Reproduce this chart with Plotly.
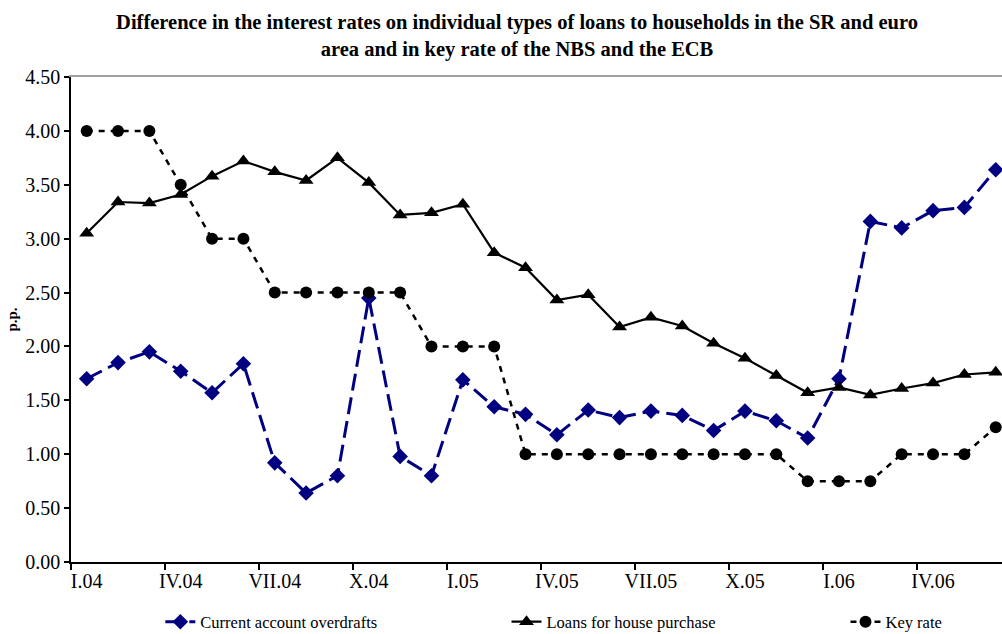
import plotly.graph_objects as go

months = list(range(30))  # Jan 2004 .. Jun 2006
tick_pos = [0, 3, 6, 9, 12, 15, 18, 21, 24, 27]
tick_text = ["I.04", "IV.04", "VII.04", "X.04", "I.05", "IV.05", "VII.05", "X.05", "I.06", "IV.06"]

overdrafts = [1.70, 1.85, 1.95, 1.77, 1.57, 1.84, 0.92, 0.64, 0.80, 2.45,
              0.98, 0.80, 1.69, 1.44, 1.37, 1.18, 1.41, 1.34, 1.40, 1.36,
              1.22, 1.40, 1.31, 1.15, 1.70, 3.16, 3.10, 3.26, 3.29, 3.64]
house_loans = [3.05, 3.34, 3.33, 3.41, 3.58, 3.72, 3.62, 3.54, 3.75, 3.52,
               3.22, 3.24, 3.32, 2.87, 2.73, 2.43, 2.48, 2.18, 2.27, 2.19,
               2.03, 1.89, 1.73, 1.57, 1.62, 1.55, 1.61, 1.66, 1.74, 1.76]
key_rate = [4.00, 4.00, 4.00, 3.50, 3.00, 3.00, 2.50, 2.50, 2.50, 2.50,
            2.50, 2.00, 2.00, 2.00, 1.00, 1.00, 1.00, 1.00, 1.00, 1.00,
            1.00, 1.00, 1.00, 0.75, 0.75, 0.75, 1.00, 1.00, 1.00, 1.25]

FONT = "Liberation Serif"
NAVY = "#000080"

fig = go.Figure()
fig.add_trace(go.Scatter(
    x=months, y=overdrafts, name="Current account overdrafts", mode="lines+markers",
    line=dict(color=NAVY, width=3, dash="17px,7px"),
    marker=dict(symbol="diamond", size=12, color=NAVY), legend="legend"))
fig.add_trace(go.Scatter(
    x=months, y=house_loans, name="Loans for house purchase", mode="lines+markers",
    line=dict(color="black", width=2.2),
    marker=dict(symbol="triangle-up", size=13, color="black"), legend="legend2"))
fig.add_trace(go.Scatter(
    x=months, y=key_rate, name="Key rate", mode="lines+markers",
    line=dict(color="black", width=2.5, dash="6px,6px"),
    marker=dict(symbol="circle", size=12, color="black"), legend="legend3"))
# invisible trace to carry the top border axis
fig.add_trace(go.Scatter(x=[0], y=[0], xaxis="x2", mode="markers",
                         marker=dict(opacity=0), showlegend=False, hoverinfo="skip"))

legend_common = dict(orientation="h", xanchor="left", xref="container",
                     yref="container", y=0.019, yanchor="middle",
                     font=dict(family=FONT, size=16.5, color="black"),
                     bgcolor="rgba(0,0,0,0)")

fig.update_layout(
    width=1002, height=634,
    margin=dict(l=71, r=0, t=77, b=72),
    paper_bgcolor="white", plot_bgcolor="white",
    font=dict(family=FONT, size=15, color="black"),
    title=dict(
        text="<b>Difference in the interest rates on individual types of loans to households in the SR and euro<br>area and in key rate of the NBS and the ECB</b>",
        x=0.516, xanchor="center", xref="container",
        y=0.954, yanchor="top", yref="container",
        font=dict(family=FONT, size=20.5, color="black")),
    xaxis=dict(
        range=[-0.5, 29.2], showgrid=False, zeroline=False, automargin=False,
        showline=True, linecolor="black", linewidth=1.5,
        tickmode="array", tickvals=tick_pos, ticktext=tick_text, ticks="",
        tickfont=dict(size=20),
        minor=dict(tickmode="array", tickvals=[-0.5, 2.5, 5.5, 8.5, 11.5, 14.5, 17.5, 20.5, 23.5, 26.5],
                   ticks="outside", ticklen=6, tickcolor="black", tickwidth=1.5, showgrid=False)),
    xaxis2=dict(
        overlaying="x", side="top", range=[-0.5, 29.2], showgrid=False, zeroline=False,
        automargin=False,
        showline=True, linecolor="#a0a0a0", linewidth=1.5, showticklabels=False, ticks=""),
    yaxis=dict(
        range=[0, 4.5], showgrid=False, zeroline=False, automargin=False,
        showline=True, linecolor="black", linewidth=1.5,
        tickmode="array", tickvals=[0, 0.5, 1, 1.5, 2, 2.5, 3, 3.5, 4, 4.5],
        tickformat=".2f", ticks="outside", ticklen=5, tickcolor="black", tickwidth=1.5,
        tickfont=dict(size=20),
        title=dict(text="<b>p.p.</b>", font=dict(size=15), standoff=4)),
    legend=dict(x=0.160, **legend_common),
    legend2=dict(x=0.5055, **legend_common),
    legend3=dict(x=0.8438, **legend_common),
    showlegend=True,
)

fig.write_html("out.html", config={"displayModeBar": False},
               post_script="document.body.style.margin='0';document.body.style.overflow='hidden';")
